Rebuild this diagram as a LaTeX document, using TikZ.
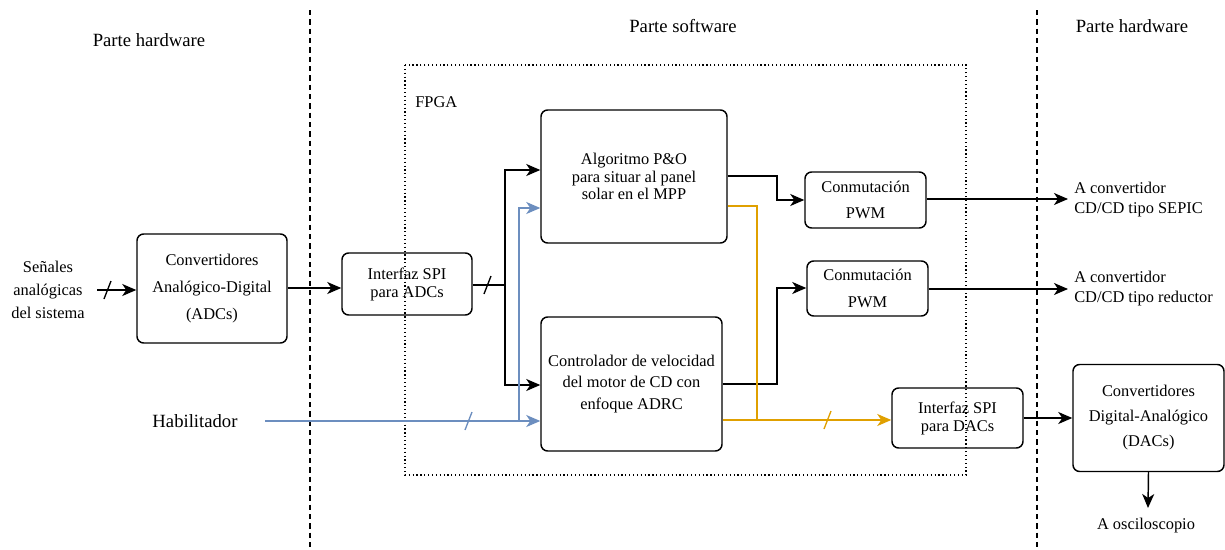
\documentclass[tikz,border=0pt]{standalone}
\usepackage{fontspec}
\setmainfont{Liberation Serif}
\newfontfamily\tnr{Liberation Serif}
\newcommand\fsz[1]{\tnr\fontsize{12.3}{#1}\selectfont}
\newcommand\fbig{\tnr\fontsize{14}{17}\selectfont}
\usetikzlibrary{arrows.meta,calc}
\definecolor{bluel}{HTML}{6C8EBF}
\definecolor{orangel}{HTML}{E0A000}
\tikzset{
  blk/.style={draw, rounded corners=5pt, line width=1.1pt, align=center, inner sep=0pt, font=\fsz{15}},
  txt/.style={align=center, inner sep=0pt, font=\fsz{15}},
  title/.style={align=center, inner sep=0pt, font=\fbig},
  conn/.style={line width=1.1pt, -{Stealth[length=10.5pt,width=9pt,inset=3pt]}},
  plain/.style={line width=1.1pt},
  slash/.style={line width=1pt},
  sep/.style={line width=1.1pt, dash pattern=on 4pt off 3pt},
}
\begin{document}
\begin{tikzpicture}[x=0.75pt,y=-0.75pt]
\useasboundingbox (0,0) rectangle (1225,550);
% separators
\draw[sep] (310,10) -- (310,550);
\draw[sep] (1037,10) -- (1037,550);
% FPGA area
\draw[line width=0.9pt, dotted] (405,65) rectangle (966,475);
\node[txt, anchor=west] (fpga) at (415,102) {FPGA};
% section titles
\node[title] (t1) at (149,40) {Parte hardware};
\node[title] (t2) at (683,26) {Parte software};
\node[title] (t3) at (1132,26) {Parte hardware};
% blocks
\node[blk, font=\fsz{20}, minimum width=112.5pt, minimum height=81.75pt] (adc) at (212,288.5) {Convertidores\\Analógico-Digital\\(ADCs)};
\node[blk, font=\fsz{13.5}, minimum width=97.5pt, minimum height=46.5pt] (spia) at (407,284) {Interfaz SPI\\para ADCs};
\node[blk, font=\fsz{13.2}, minimum width=139.5pt, minimum height=99.75pt] (po) at (634,176.5) {Algoritmo P\&O\\para situar al panel\\solar en el MPP};
\node[blk, font=\fsz{15.8}, minimum width=135.75pt, minimum height=100.5pt] (ctrl) at (631.5,384) {Controlador de velocidad\\del motor de CD con\\enfoque ADRC};
\node[blk, font=\fsz{20}, minimum width=90.75pt, minimum height=42pt] (pwm1) at (865.5,200) {Conmutación\\PWM};
\node[blk, font=\fsz{20}, minimum width=90.75pt, minimum height=41.25pt] (pwm2) at (867.5,288.5) {Conmutación\\PWM};
\node[blk, font=\fsz{13.5}, minimum width=98.25pt, minimum height=45pt] (spid) at (957.5,418) {Interfaz SPI\\para DACs};
\node[blk, font=\fsz{18.75}, minimum width=113.25pt, minimum height=80.25pt] (dac) at (1148.5,418) {Convertidores\\Digital-Analógico\\(DACs)};
% free texts
\node[txt, font=\fsz{17.25}] (sen) at (48,290) {Señales\\analógicas\\del sistema};
\node[title] (hab) at (195,421) {Habilitador};
\node[txt, anchor=west, align=left] (o1) at (1074,200) {A convertidor\\CD/CD tipo SEPIC};
\node[txt, anchor=west, align=left] (o2) at (1074,289) {A convertidor\\CD/CD tipo reductor};
\node[txt] (osc) at (1146,526) {A osciloscopio};
% coordinates
\coordinate (sin) at (97,290);
\coordinate (split) at (505,285);
\coordinate (habs) at (265,421);
\coordinate (habv) at (519,421);
\coordinate (oj) at (757,420);
\coordinate (e1) at (1068,199);
\coordinate (e2) at (1068,289);
\coordinate (oscT) at (1148,508);
% black connectors
\draw[conn] (sin) -- (adc.west |- sin);
\draw[slash] (104,299) -- (111,281);
\draw[conn] (adc.east |- 0,288) -- (spia.west |- 0,288);
\draw[plain] (spia.east |- split) -- (split);
\draw[slash] (484,294) -- (491,276);
\draw[conn] (split) -- (split |- 0,170) -- (po.west |- 0,170);
\draw[conn] (split) -- (split |- 0,385) -- (ctrl.west |- 0,385);
\draw[conn] (po.east |- 0,176) -- (777,176) -- (777,200) -- (pwm1.west |- 0,200);
\draw[conn] (ctrl.east |- 0,384) -- (777,384) -- (777,288) -- (pwm2.west |- 0,288);
\draw[conn] (pwm1.east |- 0,199) -- (e1);
\draw[conn] (pwm2.east |- 0,289) -- (e2);
\draw[conn] (spid.east |- 0,418) -- (dac.west |- 0,418);
\draw[conn] (dac.south) -- (oscT);
% blue connectors
\draw[conn, bluel] (habs) -- (ctrl.west |- habs);
\draw[conn, bluel] (habv) -- (habv |- 0,208) -- (po.west |- 0,208);
\draw[slash, bluel] (465,430) -- (472,412);
% orange connectors
\draw[conn, orangel] (ctrl.east |- oj) -- (spid.west |- oj);
\draw[plain, orangel] (po.east |- 0,206) -- (oj |- 0,206) -- (oj);
\draw[slash, orangel] (824,429) -- (831,411);
\end{tikzpicture}
\end{document}
